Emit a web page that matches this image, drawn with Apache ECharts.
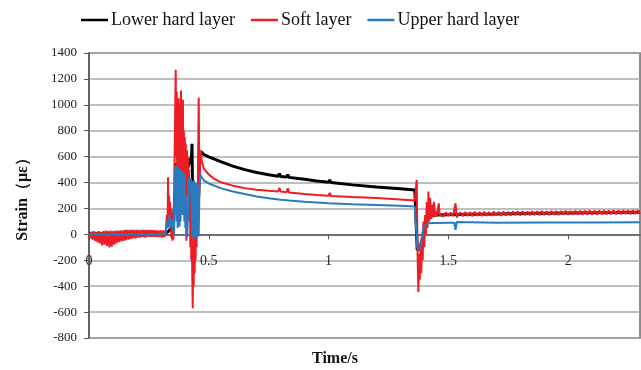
<!DOCTYPE html>
<html>
<head>
<meta charset="utf-8">
<script src="https://cdn.jsdelivr.net/npm/echarts@6/dist/echarts.min.js"></script>
<style>html,body{margin:0;padding:0;background:#fff}#c{width:641px;height:370px}</style>
</head>
<body>
<div id="c"></div>
<script>
const seriesNames = ['Lower hard layer', 'Soft layer', 'Upper hard layer'];
const xTicks = [0, 0.5, 1, 1.5, 2];
const yTicks = [-800, -600, -400, -200, 0, 200, 400, 600, 800, 1000, 1200, 1400];

// [time (s), strain (με)]
const lowerHard = [
  [0,2],[0.05,4],[0.1,2],[0.15,5],[0.2,3],[0.25,5],[0.3,4],[0.32,10],
  [0.33,20],[0.35,60],[0.36,300],[0.365,550],[0.37,400],[0.38,600],[0.39,500],
  [0.40,560],[0.41,500],[0.42,560],[0.428,600],[0.43,700],[0.432,350],[0.44,0],[0.45,-20],
  [0.455,200],[0.46,500],[0.467,640],[0.48,615],[0.5,598],[0.55,562],[0.6,527],
  [0.65,500],[0.7,478],[0.75,460],[0.79,448],[0.795,470],[0.8,446],[0.825,442],
  [0.83,462],[0.835,440],[0.9,425],[0.95,412],[1.0,402],[1.005,420],[1.01,400],
  [1.1,382],[1.2,366],[1.3,352],[1.36,343],[1.365,340],[1.37,-120],[1.375,-125],
  [1.38,-110],[1.39,-50],[1.4,60],[1.41,120],[1.42,140],[1.45,150],[1.5,152],
  [1.6,156],[1.7,158],[1.8,161],[1.9,163],[2.0,165],[2.1,167],[2.2,168],[2.3,170]
];

const softLayer = [
  [0,10],[0.005,-30],[0.01,20],[0.015,-40],[0.02,25],[0.025,-50],[0.03,20],[0.035,-60],
  [0.04,25],[0.045,-70],[0.05,20],[0.055,-85],[0.06,25],[0.065,-80],[0.07,30],[0.075,-90],
  [0.08,25],[0.085,-100],[0.09,30],[0.095,-95],[0.1,25],[0.105,-80],[0.11,30],[0.115,-70],
  [0.12,30],[0.125,-60],[0.13,30],[0.135,-55],[0.14,30],[0.145,-50],[0.15,35],[0.155,-45],
  [0.16,35],[0.165,-40],[0.17,35],[0.175,-35],[0.18,35],[0.185,-30],[0.19,35],[0.195,-30],
  [0.2,35],[0.205,-25],[0.21,35],[0.215,-25],[0.22,35],[0.225,-20],[0.23,35],[0.235,-25],
  [0.24,35],[0.245,-20],[0.25,35],[0.255,-20],[0.26,35],[0.265,-20],[0.27,35],[0.275,-20],
  [0.28,30],[0.285,-20],[0.29,30],[0.295,-20],[0.3,30],[0.305,-25],[0.31,30],[0.315,-20],
  [0.32,30],[0.322,60],[0.325,150],[0.328,80],[0.33,440],[0.332,100],[0.334,300],[0.336,80],
  [0.338,250],[0.34,60],[0.342,200],[0.344,-30],[0.346,150],[0.348,-50],[0.35,100],[0.352,-40],
  [0.355,300],[0.358,700],[0.36,1000],[0.362,1270],[0.364,600],[0.366,1100],[0.368,500],
  [0.37,900],[0.372,400],[0.374,1050],[0.376,350],[0.378,1000],[0.38,500],[0.384,1110],
  [0.386,450],[0.388,900],[0.39,300],[0.392,1040],[0.394,400],[0.396,800],[0.398,200],
  [0.4,750],[0.402,500],[0.404,700],[0.407,-50],[0.409,650],[0.411,400],[0.413,600],
  [0.415,300],[0.417,500],[0.419,100],[0.421,400],[0.423,-100],[0.425,300],[0.427,-200],
  [0.429,100],[0.431,-300],[0.433,-570],[0.435,-100],[0.437,-400],[0.439,50],[0.441,-300],
  [0.443,100],[0.445,-200],[0.447,200],[0.449,-100],[0.451,300],[0.453,0],[0.455,500],
  [0.458,1055],[0.461,300],[0.464,600],[0.467,650],[0.47,570],[0.48,505],[0.5,462],
  [0.52,432],[0.55,402],[0.6,376],[0.65,357],[0.7,344],[0.75,336],[0.79,331],[0.795,360],
  [0.8,330],[0.825,326],[0.83,355],[0.835,323],[0.9,311],[0.95,304],[1.0,298],[1.005,320],
  [1.01,296],[1.1,288],[1.2,280],[1.3,270],[1.36,262],[1.365,260],[1.368,420],[1.372,-200],
  [1.375,-445],[1.378,-150],[1.381,-350],[1.384,-50],[1.387,-300],[1.39,0],[1.393,-200],
  [1.396,100],[1.4,-100],[1.403,150],[1.406,0],[1.41,250],[1.413,50],[1.417,330],[1.42,100],
  [1.424,280],[1.428,120],[1.432,230],[1.436,130],[1.44,250],[1.444,140],[1.448,180],
  [1.452,140],[1.46,240],[1.464,150],[1.47,165],[1.48,140],[1.49,170],[1.5,145],[1.51,168],
  [1.52,142],[1.53,240],[1.535,130],[1.54,150],[1.55,170],[1.56,140],[1.57,172],[1.58,142],
  [1.59,170],[1.6,140],[1.61,174],[1.62,144],[1.63,172],[1.64,142],[1.65,175],[1.66,144],
  [1.67,173],[1.68,143],[1.69,176],[1.7,145],[1.71,174],[1.72,144],[1.73,176],[1.74,146],
  [1.75,175],[1.76,145],[1.77,177],[1.78,147],[1.79,176],[1.8,146],[1.81,178],[1.82,148],
  [1.83,177],[1.84,147],[1.85,179],[1.86,149],[1.87,178],[1.88,148],[1.89,180],[1.9,150],
  [1.91,179],[1.92,149],[1.93,180],[1.94,151],[1.95,181],[1.96,150],[1.97,180],[1.98,152],
  [1.99,182],[2.0,151],[2.01,181],[2.02,152],[2.03,183],[2.04,153],[2.05,182],[2.06,152],
  [2.07,183],[2.08,154],[2.09,184],[2.1,153],[2.11,183],[2.12,154],[2.13,184],[2.14,155],
  [2.15,185],[2.16,154],[2.17,184],[2.18,156],[2.19,185],[2.2,155],[2.21,186],[2.22,156],
  [2.23,185],[2.24,157],[2.25,186],[2.26,156],[2.27,187],[2.28,157],[2.29,186],[2.3,158]
];

const upperHard = [
  [0,-5],[0.02,5],[0.04,-6],[0.06,4],[0.08,-8],[0.1,5],[0.12,-6],[0.14,4],[0.16,-5],
  [0.18,5],[0.2,-4],[0.22,5],[0.24,-5],[0.26,4],[0.28,-4],[0.3,5],[0.32,5],
  [0.322,20],[0.325,100],[0.33,50],[0.335,150],[0.34,60],[0.345,120],[0.35,30],[0.352,100],
  [0.355,0],[0.358,250],[0.36,520],[0.362,300],[0.364,535],[0.366,100],[0.368,525],
  [0.37,50],[0.372,515],[0.374,80],[0.376,510],[0.378,60],[0.38,500],[0.382,100],
  [0.384,495],[0.386,150],[0.388,490],[0.39,200],[0.392,480],[0.394,150],[0.396,470],
  [0.398,100],[0.4,460],[0.402,50],[0.404,300],[0.406,0],[0.408,200],[0.41,-20],
  [0.412,-30],[0.414,200],[0.416,430],[0.42,435],[0.425,430],[0.43,425],[0.432,-30],
  [0.434,410],[0.436,-20],[0.438,420],[0.44,-30],[0.442,400],[0.444,-20],[0.446,400],
  [0.448,-20],[0.45,390],[0.452,-20],[0.455,380],[0.458,-10],[0.461,350],[0.464,470],
  [0.467,450],[0.48,415],[0.5,393],[0.55,357],[0.6,331],[0.65,311],[0.7,293],[0.75,279],
  [0.79,270],[0.795,285],[0.8,268],[0.825,264],[0.83,278],[0.835,262],[0.9,252],
  [1.0,241],[1.1,233],[1.2,227],[1.3,221],[1.36,216],[1.365,212],[1.37,-100],[1.375,-120],
  [1.38,-110],[1.385,-80],[1.39,-20],[1.395,40],[1.4,60],[1.41,80],[1.42,86],[1.43,88],
  [1.45,88],[1.5,90],[1.525,90],[1.53,35],[1.535,95],[1.54,90],[1.7,90],[1.9,91],
  [2.1,92],[2.3,93]
];

const chart = echarts.init(document.getElementById('c'), null, {renderer: 'canvas'});
const serif = 'Liberation Serif, Times New Roman, serif';
const yMin = yTicks[0], yMax = yTicks[yTicks.length - 1];
const gridTop = 53, gridBottom = 32, chartH = 370;
const plotH = chartH - gridTop - gridBottom;
// move the x axis up to the zero line
const zeroOffset = -plotH * (0 - yMin) / (yMax - yMin);

chart.setOption({
  animation: false,
  backgroundColor: '#fff',
  textStyle: {fontFamily: serif},
  title: {
    text: 'Time/s', left: 307, top: 346,
    textStyle: {fontFamily: serif, fontSize: 16, fontWeight: 'bold', color: '#111'}
  },
  legend: {
    data: seriesNames,
    left: 76, top: 6,
    icon: 'rect', itemWidth: 27, itemHeight: 2.5, itemGap: 16,
    textStyle: {fontFamily: serif, fontSize: 18, color: '#111', padding: [0, 0, 0, -2]}
  },
  grid: {
    left: 89, right: 1, top: gridTop, bottom: gridBottom,
    show: true, borderColor: '#666', borderWidth: 1.5, containLabel: false
  },
  xAxis: {
    type: 'value', min: 0, max: 2.3, interval: 0.5,
    position: 'bottom', offset: zeroOffset,
    axisLine: {onZero: false, lineStyle: {color: '#555', width: 1.5}},
    axisTick: {show: true, inside: false, length: 5, customValues: xTicks, lineStyle: {color: '#555'}},
    axisLabel: {customValues: xTicks, margin: 20, fontFamily: serif, fontSize: 14, color: '#222',
      formatter: v => String(v)},
    splitLine: {show: false}
  },
  yAxis: {
    type: 'value', min: yMin, max: yMax, interval: 200,
    name: 'Strain（με）', nameLocation: 'middle', nameGap: 58,
    nameTextStyle: {fontFamily: serif, fontSize: 16, fontWeight: 'bold', color: '#111'},
    axisLine: {show: true, lineStyle: {color: '#555', width: 1.5}},
    axisTick: {show: true, length: 5, lineStyle: {color: '#555'}},
    axisLabel: {margin: 12, fontFamily: serif, fontSize: 13, color: '#222',
      formatter: v => String(v)},
    splitLine: {show: true, lineStyle: {color: '#aaa', width: 1.5}}
  },
  series: [
    {name: seriesNames[0], type: 'line', data: lowerHard, showSymbol: false,
      color: '#000', lineStyle: {width: 3, color: '#000'}},
    {name: seriesNames[1], type: 'line', data: softLayer, showSymbol: false,
      color: '#ee1c24', lineStyle: {width: 2, color: '#ee1c24'}},
    {name: seriesNames[2], type: 'line', data: upperHard, showSymbol: false,
      color: '#2a7ac0', lineStyle: {width: 2, color: '#2a7ac0'}}
  ]
});
</script>
</body>
</html>
